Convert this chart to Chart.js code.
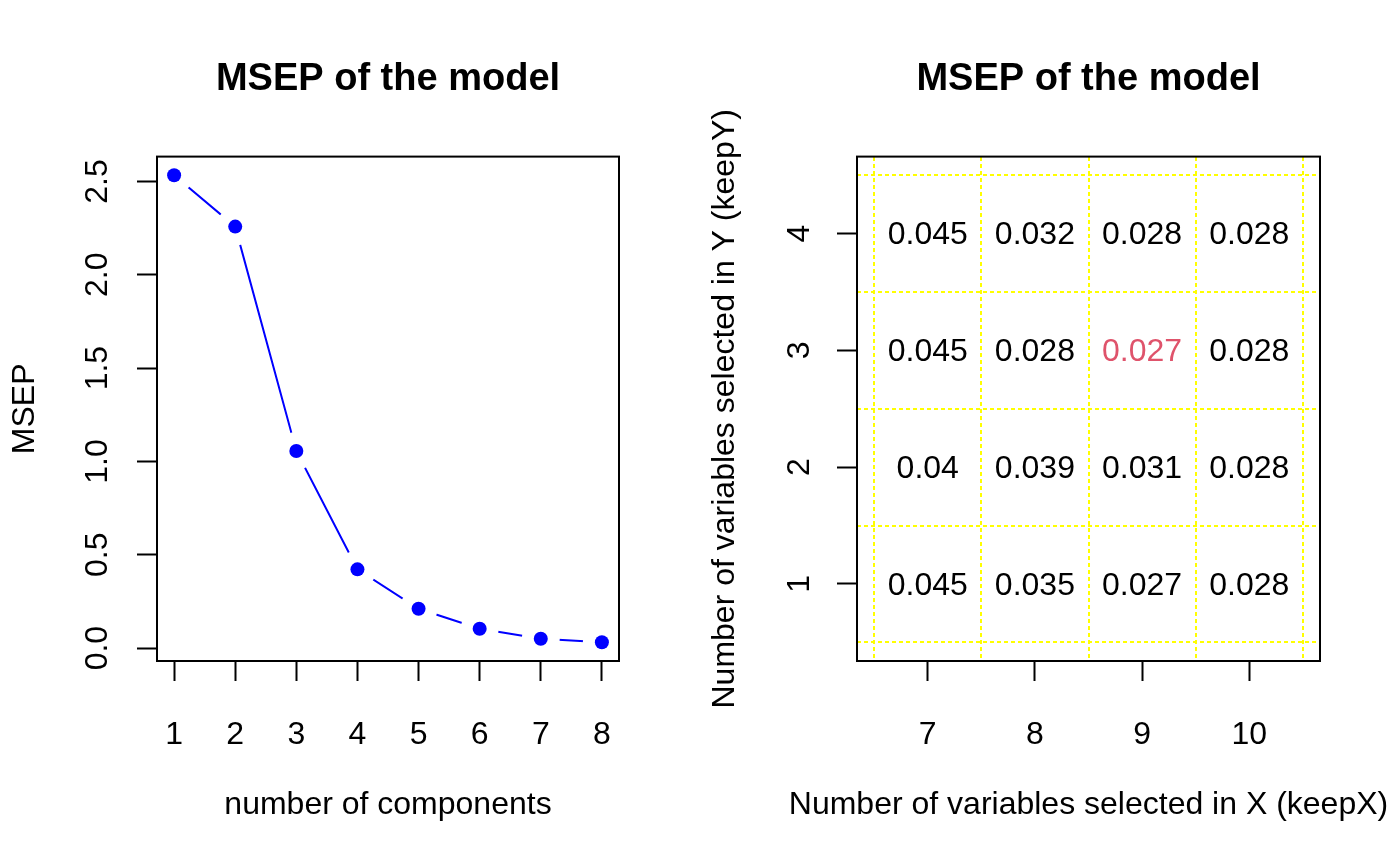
<!DOCTYPE html>
<html>
<head>
<meta charset="utf-8">
<script src="https://cdn.jsdelivr.net/npm/chart.js@4"></script>
<style>
  body { margin: 0; background: #fff; }
  .panel { position: absolute; top: 0; width: 700px; height: 865px; }
</style>
</head>
<body>
<div class="panel" style="left:0"><canvas id="left" width="700" height="865"></canvas></div>
<div class="panel" style="left:700px"><canvas id="right" width="700" height="865"></canvas></div>
<script>
// left panel: MSEP by number of components
const components = [1, 2, 3, 4, 5, 6, 7, 8];
const msep = [2.533, 2.258, 1.056, 0.422, 0.211, 0.104, 0.050, 0.031];
const msepTicks = [0, 0.5, 1, 1.5, 2, 2.5];

// right panel: MSEP grid, one row per keepY value
const keepX = [7, 8, 9, 10];
const keepY = [1, 2, 3, 4];
const msepKeepY1 = [0.045, 0.035, 0.027, 0.028];
const msepKeepY2 = [0.04, 0.039, 0.031, 0.028];
const msepKeepY3 = [0.045, 0.028, 0.027, 0.028];
const msepKeepY4 = [0.045, 0.032, 0.028, 0.028];
const bestX = 9;
const bestY = 3;
const gridX = [6.5, 7.5, 8.5, 9.5, 10.5];
const gridY = [0.5, 1.5, 2.5, 3.5, 4.5];

const FONT = '"Liberation Sans", Arial, Helvetica, sans-serif';
const FS = 32;
Chart.defaults.font.family = FONT;
Chart.defaults.color = "#000";

// R style axis limits: data range plus 4% each side
const rlim = (lo, hi) => [lo - (hi - lo) * 0.04, hi + (hi - lo) * 0.04];

const boxPlugin = {
  id: "box",
  afterDraw(chart) {
    const { ctx, chartArea: a } = chart;
    ctx.save();
    ctx.strokeStyle = "#000";
    ctx.lineWidth = 2;
    ctx.strokeRect(a.left, a.top, a.right - a.left, a.bottom - a.top);
    ctx.restore();
  },
};

const setTicks = (values) => (scale) => {
  scale.ticks = values.map((v) => ({ value: v }));
};

const tickGrid = {
  drawOnChartArea: false,
  drawTicks: true,
  tickLength: 20,
  tickWidth: 2,
  tickColor: "#000",
};

const titleOpts = {
  display: true,
  text: "MSEP of the model",
  fullSize: false,
  color: "#000",
  font: { size: 38, weight: "bold", lineHeight: 1.2 },
  padding: { top: 57, bottom: 54 },
};

const xAxis = (lim, ticks, label) => ({
  type: "linear",
  position: "bottom",
  min: lim[0],
  max: lim[1],
  afterBuildTicks: setTicks(ticks),
  afterFit: (s) => { s.height = 204; },
  grid: tickGrid,
  border: { display: false },
  ticks: { font: { size: FS }, padding: 35, maxRotation: 0, autoSkip: false },
  title: { display: !!label, text: label, font: { size: FS }, padding: { top: 0, bottom: 41 } },
});

const yAxis = (lim, ticks, label, pad, fmt) => ({
  type: "linear",
  position: "left",
  min: lim[0],
  max: lim[1],
  afterBuildTicks: setTicks(ticks),
  afterFit: (s) => { s.width = 157; },
  grid: tickGrid,
  border: { display: false },
  ticks: {
    font: { size: FS },
    padding: pad,
    minRotation: 90,
    maxRotation: 90,
    crossAlign: "center",
    autoSkip: false,
    callback: fmt,
  },
  title: { display: !!label, text: label, font: { size: FS }, padding: { top: 6, bottom: 0 } },
});

// left chart
const pts = components.map((c, i) => ({ x: c, y: msep[i] }));
new Chart(document.getElementById("left"), {
  type: "line",
  data: {
    datasets: [
      { data: pts, order: 0, showLine: false, pointRadius: 7, pointBackgroundColor: "#0000ff", pointBorderWidth: 0 },
      {
        data: pts, order: 1, borderColor: "#0000ff", borderWidth: 2, tension: 0, fill: false,
        pointRadius: 19, pointBackgroundColor: "#fff", pointBorderWidth: 0,
      },
    ],
  },
  options: {
    responsive: false,
    animation: false,
    events: [],
    layout: { padding: { left: 0, right: 81, top: 0, bottom: 0 } },
    plugins: { legend: { display: false }, tooltip: { enabled: false }, title: titleOpts },
    scales: {
      x: xAxis(rlim(1, 8), components, "number of components"),
      y: yAxis(rlim(Math.min(...msep), Math.max(...msep)), msepTicks, "MSEP", 17, (v) => v.toFixed(1)),
    },
  },
  plugins: [boxPlugin],
});

// right chart
const rows = [msepKeepY1, msepKeepY2, msepKeepY3, msepKeepY4];
const cells = [];
keepY.forEach((y, r) => keepX.forEach((x, c) => cells.push({ x: x, y: y, v: rows[r][c] })));

const cellLabels = {
  id: "cellLabels",
  afterDatasetsDraw(chart) {
    const { ctx } = chart;
    const meta = chart.getDatasetMeta(0);
    ctx.save();
    ctx.font = FS + "px " + FONT;
    ctx.textAlign = "center";
    ctx.textBaseline = "middle";
    meta.data.forEach((el, i) => {
      const d = cells[i];
      ctx.fillStyle = d.x === bestX && d.y === bestY ? "#DF536B" : "#000";
      ctx.fillText(String(d.v), el.x, el.y + 2);
    });
    ctx.restore();
  },
};

// the long axis titles are wider than the plot, so draw them unclipped
const wideTitles = {
  id: "wideTitles",
  afterDraw(chart) {
    const { ctx, chartArea: a } = chart;
    ctx.save();
    ctx.font = FS + "px " + FONT;
    ctx.fillStyle = "#000";
    ctx.textAlign = "center";
    ctx.textBaseline = "middle";
    ctx.fillText("Number of variables selected in X (keepX)", (a.left + a.right) / 2, 805);
    ctx.translate(25, (a.top + a.bottom) / 2);
    ctx.rotate(-Math.PI / 2);
    ctx.fillText("Number of variables selected in Y (keepY)", 0, 0);
    ctx.restore();
  },
};

const dotted = (values, pos, lim) => ({
  type: "linear",
  position: pos,
  min: lim[0],
  max: lim[1],
  afterBuildTicks: setTicks(values),
  afterFit: (s) => { if (s.isHorizontal()) s.height = 0; else s.width = 0; },
  grid: { color: "#ffff00", lineWidth: 2, drawTicks: false, drawOnChartArea: true },
  border: { display: false, dash: [4, 3] },
  ticks: { display: false },
});

const xlimR = rlim(6.5, 10.5);
const ylimR = rlim(0.5, 4.5);
new Chart(document.getElementById("right"), {
  type: "scatter",
  data: { datasets: [{ data: cells, pointRadius: 0, showLine: false }] },
  options: {
    responsive: false,
    animation: false,
    events: [],
    layout: { padding: { left: 0, right: 80, top: 0, bottom: 0 } },
    plugins: { legend: { display: false }, tooltip: { enabled: false }, title: titleOpts },
    scales: {
      x: xAxis(xlimR, keepX, ""),
      y: yAxis(ylimR, keepY, "", 28, (v) => String(v)),
      gx: dotted(gridX, "top", xlimR),
      gy: dotted(gridY, "right", ylimR),
    },
  },
  plugins: [cellLabels, boxPlugin, wideTitles],
});
</script>
</body>
</html>
